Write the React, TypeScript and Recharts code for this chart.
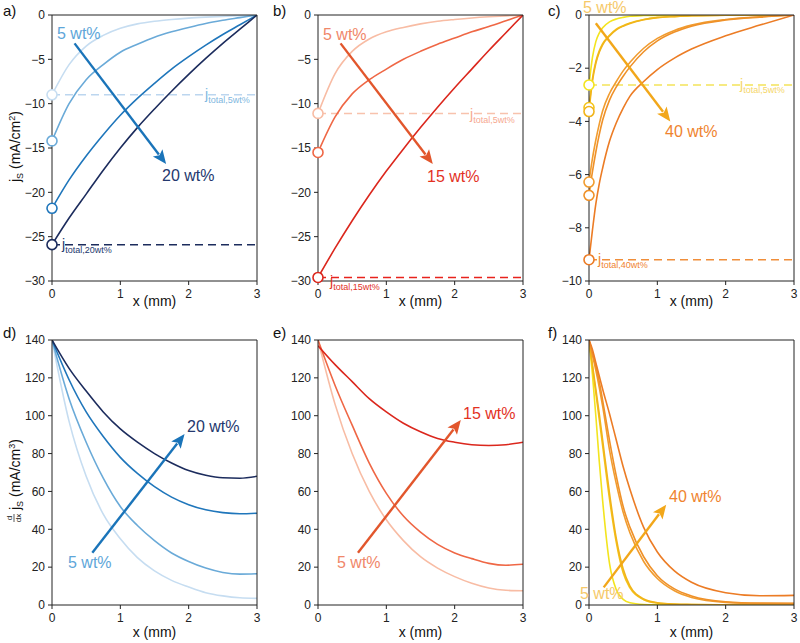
import React from "react";
import { LineChart, Line, XAxis, YAxis, ReferenceLine, ReferenceDot } from "recharts";

const FONT = '"Liberation Sans", Arial, Helvetica, sans-serif';

// x grids (mm)
const X_COARSE = [0, 0.25, 0.5, 0.75, 1, 1.25, 1.5, 1.75, 2, 2.25, 2.5, 2.75, 3];
const X_FINE = [0, 0.05, 0.1, 0.15, 0.2, 0.3, 0.4, 0.5, 0.6, 0.8, 1, 1.25, 1.5, 2, 2.5, 3];

const X_TICKS = [0, 1, 2, 3];
const Y_TICKS_J = [-30, -25, -20, -15, -10, -5, 0];
const Y_TICKS_JC = [-10, -8, -6, -4, -2, 0];
const Y_TICKS_D = [0, 20, 40, 60, 80, 100, 120, 140];

// a) j_S, 5 / 10 / 15 / 20 wt%
const JA_5 = [-9, -5.6, -3.5, -2.3, -1.5, -1.0, -0.7, -0.5, -0.35, -0.24, -0.15, -0.07, 0];
const JA_10 = [-14.2, -10.0, -7.3, -5.6, -4.2, -3.3, -2.5, -1.9, -1.4, -0.95, -0.6, -0.3, 0];
const JA_15 = [-21.8, -18.6, -15.9, -13.5, -11.3, -9.4, -7.7, -6.1, -4.7, -3.4, -2.2, -1.1, 0];
const JA_20 = [-25.9, -22.9, -20.2, -17.5, -15.0, -12.7, -10.6, -8.6, -6.7, -4.9, -3.2, -1.6, 0];
const J_TOTAL_A = [-9, -25.9];

// b) j_S, 5 / 10 / 15 wt%
const JB_5 = [-11.1, -6.6, -4.1, -2.7, -1.9, -1.4, -1.0, -0.7, -0.5, -0.33, -0.2, -0.1, 0];
const JB_10 = [-15.5, -11.5, -8.9, -7.3, -6.1, -5.0, -4.1, -3.3, -2.6, -1.9, -1.3, -0.65, 0];
const JB_15 = [-29.6, -26.3, -23.2, -20.3, -17.6, -15.1, -12.7, -10.4, -8.2, -6.1, -4.0, -2.0, 0];
const J_TOTAL_B = [-11.1, -29.6];

// c) j_S, 5 ... 40 wt%
const JC_5 = [-2.63, -1.6, -1.0, -0.68, -0.48, -0.26, -0.15, -0.09, -0.05, -0.02, -0.01, 0, 0, 0, 0, 0];
const JC_10 = [-3.48, -2.4, -1.75, -1.35, -1.08, -0.76, -0.53, -0.4, -0.3, -0.17, -0.09, -0.05, -0.03, -0.01, 0, 0];
const JC_15 = [-3.63, -2.5, -1.82, -1.4, -1.12, -0.79, -0.56, -0.42, -0.32, -0.18, -0.1, -0.06, -0.03, -0.01, 0, 0];
const JC_20 = [-6.28, -5.4, -4.7, -4.1, -3.6, -2.95, -2.5, -2.1, -1.78, -1.25, -0.88, -0.58, -0.38, -0.17, -0.07, 0];
const JC_30 = [-6.78, -5.9, -5.15, -4.5, -3.95, -3.2, -2.7, -2.3, -1.95, -1.38, -0.97, -0.64, -0.42, -0.19, -0.08, 0];
const JC_40 = [-9.2, -8.1, -7.1, -6.35, -5.75, -4.75, -4.05, -3.5, -3.05, -2.5, -2.05, -1.62, -1.28, -0.78, -0.38, 0];
const J_TOTAL_C = [-2.63, -9.2];

// d) d/dx j_S
const DD_5 = [140, 97, 68, 48, 35, 25, 18, 13, 9.5, 6.5, 4.8, 3.8, 3.5];
const DD_10 = [140, 109, 86, 67, 52, 42, 34, 27.5, 23, 19.5, 17.2, 16.3, 16.5];
const DD_15 = [140, 119, 102, 89, 78, 69.5, 62.5, 57, 53, 50.3, 48.8, 48.2, 48.5];
const DD_20 = [140, 125, 113, 102, 93, 86, 80, 75, 71, 68.5, 67.2, 67, 68];

// e)
const DE_5 = [140, 106, 80, 60, 45, 34, 25.5, 19.5, 15, 11.5, 9, 7.8, 7.5];
const DE_10 = [140, 116, 95, 75, 59, 47, 38.5, 32, 27.5, 24.5, 22, 21, 21.5];
const DE_15 = [137, 127, 118, 109, 102, 96, 91.5, 88, 86, 84.7, 84.3, 84.7, 86];

// f)
const DF_5 = [140, 122, 100, 76, 55, 22, 8, 3, 1.2, 0.3, 0.1, 0, 0, 0, 0, 0];
const DF_10 = [140, 126, 112, 98, 84, 56, 33, 17, 9, 2.8, 1, 0.4, 0.2, 0.1, 0, 0];
const DF_15 = [140, 127, 114, 101, 87, 59, 35, 19, 10, 3.2, 1.2, 0.5, 0.3, 0.1, 0, 0];
const DF_20 = [140, 132, 124, 115, 105, 82, 64, 49, 38, 23, 14, 7.5, 4, 1.4, 0.8, 0.7];
const DF_30 = [140, 133, 126, 118, 108, 87, 68, 52, 41, 25.5, 15.5, 8.5, 4.8, 1.7, 1, 0.9];
const DF_40 = [140, 135, 128, 121, 114, 101, 87, 73, 61, 41, 28, 18, 12, 6.5, 4.9, 5.1];

const BLUES = ["#c6ddf1", "#6aaad8", "#1f76bb", "#1c2c5d"];
const REDS = ["#f8bca4", "#ef6745", "#db271d"];
const OARNGES = ["#f3e41e", "#f5c417", "#f1b41a", "#f19c2f", "#ef9129", "#ec7c25"];

const ARROW_BLUE = "#1a74b9";
const ARROW_RED = "#e2562c";
const ARROW_ORANGE = "#f2a71a";

type Arrow = { from: [number, number]; to: [number, number]; color: string };

type PanelProps = {
  left: number;
  top: number;
  height: number;
  marginTop: number;
  xAxisHeight: number;
  xs: number[];
  curves: number[][];
  colors: string[];
  yDomain: [number, number];
  yTicks: number[];
  circles?: boolean;
  totals?: { y: number; color: string }[];
  arrow: Arrow;
};

const fmt = (v: number) => (v < 0 ? "\u2212" + Math.abs(v) : String(v));

const tickStyle = { fill: "#222", fontSize: 12, fontFamily: FONT };

function arrowShape(props: any) {
  const { x1, y1, x2, y2, stroke } = props;
  const dx = x2 - x1;
  const dy = y2 - y1;
  const len = Math.hypot(dx, dy) || 1;
  const ux = dx / len;
  const uy = dy / len;
  const hl = 14;
  const hw = 6;
  const bx = x2 - ux * hl;
  const by = y2 - uy * hl;
  return (
    <g>
      <line x1={x1} y1={y1} x2={bx + ux * 2} y2={by + uy * 2} stroke={stroke} strokeWidth={2.4} />
      <polygon
        points={`${x2},${y2} ${bx - uy * hw},${by + ux * hw} ${bx + ux * 3},${by + uy * 3} ${bx + uy * hw},${by - ux * hw}`}
        fill={stroke}
      />
    </g>
  );
}

function Panel(p: PanelProps) {
  return (
    <div style={{ position: "absolute", left: p.left, top: p.top }}>
      <LineChart
        width={262}
        height={p.height}
        margin={{ top: p.marginTop, right: 4, bottom: 0, left: 0 }}
      >
        <XAxis
          type="number"
          dataKey="x"
          domain={[0, 3]}
          ticks={X_TICKS}
          height={p.xAxisHeight}
          stroke="#222"
          tick={tickStyle}
          tickSize={4}
          tickMargin={4}
          allowDataOverflow
        />
        <XAxis
          xAxisId="top"
          orientation="top"
          type="number"
          domain={[0, 3]}
          ticks={X_TICKS}
          height={1}
          stroke="#222"
          tick={false}
          tickSize={4}
        />
        <YAxis
          type="number"
          domain={p.yDomain}
          ticks={p.yTicks}
          width={52}
          stroke="#222"
          tick={tickStyle}
          tickFormatter={fmt}
          tickSize={4}
          tickMargin={3}
          allowDataOverflow
        />
        <YAxis
          yAxisId="right"
          orientation="right"
          type="number"
          domain={p.yDomain}
          ticks={p.yTicks}
          width={1}
          stroke="#222"
          tick={false}
          tickSize={4}
        />
        {(p.totals || []).map((t, i) => (
          <ReferenceLine
            key={"t" + i}
            y={t.y}
            stroke={t.color}
            strokeWidth={1.5}
            strokeDasharray="8 5"
          />
        ))}
        {p.curves.map((c, i) => (
          <Line
            key={"c" + i}
            data={p.xs.map((x, j) => ({ x, y: c[j] }))}
            dataKey="y"
            type="monotone"
            stroke={p.colors[i]}
            strokeWidth={1.6}
            dot={false}
            isAnimationActive={false}
          />
        ))}
        <ReferenceLine
          segment={[
            { x: p.arrow.from[0], y: p.arrow.from[1] },
            { x: p.arrow.to[0], y: p.arrow.to[1] },
          ]}
          stroke={p.arrow.color}
          shape={arrowShape}
          ifOverflow="visible"
        />
        {p.circles &&
          p.curves.map((c, i) => (
            <ReferenceDot
              key={"d" + i}
              x={0}
              y={c[0]}
              r={5}
              fill="#fff"
              stroke={p.colors[i]}
              strokeWidth={1.6}
              ifOverflow="visible"
            />
          ))}
      </LineChart>
    </div>
  );
}

function Lbl({ x, y, c, s = 16, children }: { x: number; y: number; c: string; s?: number; children: React.ReactNode }) {
  return (
    <text x={x} y={y} fill={c} fontSize={s} fontFamily={FONT}>
      {children}
    </text>
  );
}

function JTot({ x, y, c, sub }: { x: number; y: number; c: string; sub: string }) {
  return (
    <text x={x} y={y} fill={c} fontSize={14} fontFamily={FONT}>
      j
      <tspan fontSize={9} dy={4}>
        {sub}
      </tspan>
    </text>
  );
}

const TOP_ROW = { top: 0, height: 320, marginTop: 14, xAxisHeight: 39 };
const BOTTOM_ROW = { top: 320, height: 323, marginTop: 19, xAxisHeight: 38 };
const COLS = [0, 266, 537];

export default function App() {
  return (
    <div
      style={{
        position: "fixed",
        left: 0,
        top: 0,
        width: 800,
        height: 643,
        background: "#fff",
        overflow: "hidden",
      }}
    >
      <Panel
        left={COLS[0]}
        {...TOP_ROW}
        xs={X_COARSE}
        curves={[JA_5, JA_10, JA_15, JA_20]}
        colors={BLUES}
        yDomain={[-30, 0]}
        yTicks={Y_TICKS_J}
        circles
        totals={[
          { y: J_TOTAL_A[0], color: "#bcd6ef" },
          { y: J_TOTAL_A[1], color: BLUES[3] },
        ]}
        arrow={{ from: [0.33, -3.2], to: [1.67, -16.8], color: ARROW_BLUE }}
      />
      <Panel
        left={COLS[1]}
        {...TOP_ROW}
        xs={X_COARSE}
        curves={[JB_5, JB_10, JB_15]}
        colors={REDS}
        yDomain={[-30, 0]}
        yTicks={Y_TICKS_J}
        circles
        totals={[
          { y: J_TOTAL_B[0], color: "#f8c2ad" },
          { y: J_TOTAL_B[1], color: "#e8231c" },
        ]}
        arrow={{ from: [0.33, -3.2], to: [1.68, -16.8], color: ARROW_RED }}
      />
      <Panel
        left={COLS[2]}
        {...TOP_ROW}
        xs={X_FINE}
        curves={[JC_5, JC_10, JC_15, JC_20, JC_30, JC_40]}
        colors={OARNGES}
        yDomain={[-10, 0]}
        yTicks={Y_TICKS_JC}
        circles
        totals={[
          { y: J_TOTAL_C[0], color: "#f3e35a" },
          { y: J_TOTAL_C[1], color: "#f08e3a" },
        ]}
        arrow={{ from: [0.1, -0.31], to: [1.19, -4.0], color: ARROW_ORANGE }}
      />
      <Panel
        left={COLS[0]}
        {...BOTTOM_ROW}
        xs={X_COARSE}
        curves={[DD_5, DD_10, DD_15, DD_20]}
        colors={BLUES}
        yDomain={[0, 140]}
        yTicks={Y_TICKS_D}
        arrow={{ from: [0.59, 27.6], to: [1.94, 90.3], color: ARROW_BLUE }}
      />
      <Panel
        left={COLS[1]}
        {...BOTTOM_ROW}
        xs={X_COARSE}
        curves={[DE_5, DE_10, DE_15]}
        colors={REDS}
        yDomain={[0, 140]}
        yTicks={Y_TICKS_D}
        arrow={{ from: [0.585, 27.6], to: [2.09, 97.7], color: ARROW_RED }}
      />
      <Panel
        left={COLS[2]}
        {...BOTTOM_ROW}
        xs={X_FINE}
        curves={[DF_5, DF_10, DF_15, DF_20, DF_30, DF_40]}
        colors={OARNGES}
        yDomain={[0, 140]}
        yTicks={Y_TICKS_D}
        arrow={{ from: [0.215, 9.3], to: [1.13, 53], color: ARROW_ORANGE }}
      />

      <svg
        width={800}
        height={643}
        style={{ position: "absolute", left: 0, top: 0, pointerEvents: "none" }}
      >
        {/* panel letters */}
        <Lbl x={3} y={16} c="#111" s={15}>a)</Lbl>
        <Lbl x={273} y={16} c="#111" s={15}>b)</Lbl>
        <Lbl x={548} y={16} c="#111" s={15}>c)</Lbl>
        <Lbl x={3} y={338} c="#111" s={15}>d)</Lbl>
        <Lbl x={273} y={338} c="#111" s={15}>e)</Lbl>
        <Lbl x={548} y={338} c="#111" s={15}>f)</Lbl>

        {/* x axis titles */}
        {[154.5, 420.5, 691.5].map((cx) => (
          <g key={cx}>
            <text x={cx} y={306} textAnchor="middle" fontSize={14} fontFamily={FONT} fill="#111">
              x (mm)
            </text>
            <text x={cx} y={637} textAnchor="middle" fontSize={14} fontFamily={FONT} fill="#111">
              x (mm)
            </text>
          </g>
        ))}

        {/* y axis titles */}
        <g transform="translate(20,182) rotate(-90)">
          <text x={0} y={0} fontSize={14} fontFamily={FONT} fill="#111">
            j<tspan fontSize={9} dy={3}>S</tspan>
            <tspan dy={-3}> (mA/cm</tspan>
            <tspan fontSize={9} dy={-5}>2</tspan>
            <tspan dy={5}>)</tspan>
          </text>
        </g>
        <g transform="translate(20,522) rotate(-90)">
          <text x={4} y={-8} fontSize={8} fontFamily={FONT} fill="#111" textAnchor="middle">
            d
          </text>
          <line x1={0} y1={-6} x2={8} y2={-6} stroke="#111" strokeWidth={0.7} />
          <text x={4} y={1} fontSize={8} fontFamily={FONT} fill="#111" textAnchor="middle">
            dx
          </text>
          <text x={12} y={0} fontSize={14} fontFamily={FONT} fill="#111">
            j<tspan fontSize={9} dy={3}>S</tspan>
            <tspan dy={-3}> (mA/cm</tspan>
            <tspan fontSize={9} dy={-5}>3</tspan>
            <tspan dy={5}>)</tspan>
          </text>
        </g>

        {/* concentration labels */}
        <Lbl x={57} y={39} c="#5ea6d9">5 wt%</Lbl>
        <Lbl x={162} y={181} c="#24386e">20 wt%</Lbl>
        <Lbl x={323} y={40} c="#f0876a">5 wt%</Lbl>
        <Lbl x={427} y={182} c="#e3321f">15 wt%</Lbl>
        <Lbl x={583} y={13} c="#f6c96a">5 wt%</Lbl>
        <Lbl x={665} y={137} c="#ef842f">40 wt%</Lbl>
        <Lbl x={68} y={568} c="#5ea6d9">5 wt%</Lbl>
        <Lbl x={187} y={432} c="#24386e">20 wt%</Lbl>
        <Lbl x={337} y={568} c="#f0876a">5 wt%</Lbl>
        <Lbl x={463} y={419} c="#e3321f">15 wt%</Lbl>
        <Lbl x={580} y={599} c="#f6c96a">5 wt%</Lbl>
        <Lbl x={669} y={502} c="#ef842f">40 wt%</Lbl>

        {/* j_total labels */}
        <JTot x={205} y={99} c="#7fb7e0" sub="total,5wt%" />
        <JTot x={62} y={249} c="#24386e" sub="total,20wt%" />
        <JTot x={470} y={119} c="#f6a890" sub="total,5wt%" />
        <JTot x={330} y={286} c="#e3321f" sub="total,15wt%" />
        <JTot x={740} y={89} c="#f5d66a" sub="total,5wt%" />
        <JTot x={598} y={264} c="#ef842f" sub="total,40wt%" />
      </svg>
    </div>
  );
}
